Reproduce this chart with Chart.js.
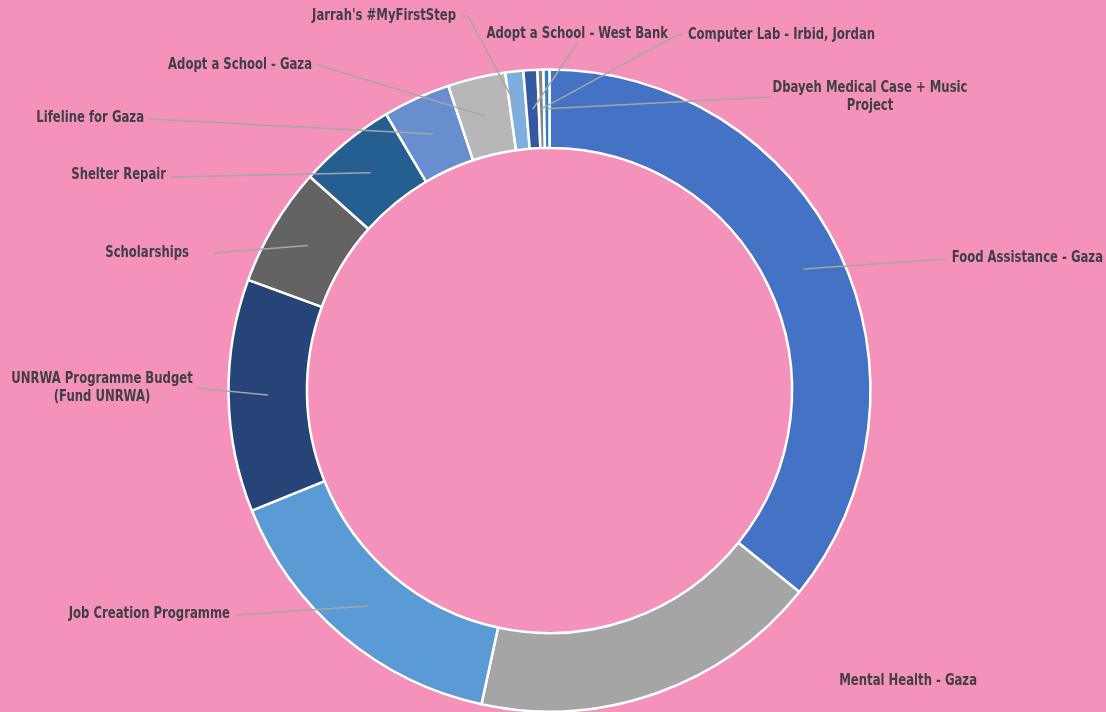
<!DOCTYPE html>
<html>
<head>
<meta charset="utf-8">
<script src="https://cdn.jsdelivr.net/npm/chart.js@4.4.1/dist/chart.umd.min.js"></script>
<style>
  html, body { margin: 0; padding: 0; background: #F492BC; }
  #wrap { width: 1106px; height: 712px; }
</style>
</head>
<body>
<div id="wrap"><canvas id="myChart" width="1106" height="712"></canvas></div>
<script>
// projets, dans l'ordre du graphique (sens horaire depuis le haut)
const projets = [
    'Food Assistance - Gaza',
    'Mental Health - Gaza',
    'Job Creation Programme',
    ['UNRWA Programme Budget', '(Fund UNRWA)'],
    'Scholarships',
    'Shelter Repair',
    'Lifeline for Gaza',
    'Adopt a School - Gaza',
    "Jarrah's #MyFirstStep",
    'Adopt a School - West Bank',
    'Computer Lab - Irbid, Jordan',
    ['Dbayeh Medical Case + Music', 'Project']
]
// part de chaque projet (%)
const parts = [35.8, 17.6, 15.5, 11.7, 6.0, 4.9, 3.4, 2.9, 0.9, 0.7, 0.3, 0.3]

const couleurs = ['#4472C4', '#A5A5A5', '#5B9BD5', '#264478', '#636363', '#255E91',
    '#698ED0', '#B7B7B7', '#7CAFDD', '#335AA1', '#848484', '#327DC2']

// position des étiquettes : x, y du texte, alignement, départ du trait, coude éventuel
const etiquettes = [
    { x: 1103, y: 258, align: 'right', sx: 945, sy: 259 },
    { x: 977, y: 681, align: 'right', sx: null },
    { x: 230, y: 614, align: 'right', sx: 236, sy: 615 },
    { x: 102, y: 379, align: 'center', sx: 196, sy: 388 },
    { x: 189, y: 253, align: 'right', sx: 214, sy: 253 },
    { x: 166, y: 175, align: 'right', sx: 171, sy: 177 },
    { x: 144, y: 118, align: 'right', sx: 150, sy: 119 },
    { x: 312, y: 65, align: 'right', sx: 318, sy: 65 },
    { x: 456, y: 16, align: 'right', sx: 462, sy: 16, coude: 468 },
    { x: 668, y: 34, align: 'right', sx: 578, sy: 42 },
    { x: 688, y: 35, align: 'left', sx: 683, sy: 35, coude: 677 },
    { x: 870, y: 88, align: 'center', sx: 770, sy: 97 }
]

const fond = {
    id: 'fond',
    beforeDraw(chart) {
        const ctx = chart.ctx
        ctx.save()
        ctx.fillStyle = '#F492BC'
        ctx.fillRect(0, 0, chart.width, chart.height)
        ctx.restore()
    }
}

const etiquettesPlugin = {
    id: 'etiquettes',
    afterDatasetsDraw(chart) {
        const ctx = chart.ctx
        const arcs = chart.getDatasetMeta(0).data
        ctx.save()
        ctx.font = "bold 16px 'DejaVu Sans Condensed', 'Liberation Sans Narrow', Roboto, sans-serif"
        ctx.textBaseline = 'middle'
        arcs.forEach((arc, i) => {
            const e = etiquettes[i]
            const p = arc.tooltipPosition()
            if (e.sx !== null) {
                ctx.strokeStyle = '#A6A6A6'
                ctx.lineWidth = 1.5
                ctx.beginPath()
                ctx.moveTo(e.sx, e.sy)
                if (e.coude) ctx.lineTo(e.coude, e.sy)
                ctx.lineTo(p.x, p.y)
                ctx.stroke()
            }
            ctx.fillStyle = '#404040'
            ctx.textAlign = e.align
            const lignes = Array.isArray(projets[i]) ? projets[i] : [projets[i]]
            lignes.forEach((t, k) => {
                // police resserrée, comme dans l'original
                ctx.save()
                ctx.translate(e.x, e.y + k * 18)
                ctx.scale(0.81, 1)
                ctx.fillText(t, 0, 0)
                ctx.restore()
            })
        })
        ctx.restore()
    }
}

const data = {
    labels: projets,
    datasets: [{
        data: parts,
        backgroundColor: couleurs,
        borderColor: '#FFFFFF',
        borderWidth: 2.5,
        radius: 321,
        cutout: 242
    }]
}

const config = {
    type: 'doughnut',
    data: data,
    options: {
        responsive: false,
        animation: false,
        layout: { padding: { left: 0, right: 7, top: 69, bottom: 0 } },
        plugins: {
            legend: { display: false },
            tooltip: { enabled: false }
        }
    },
    plugins: [fond, etiquettesPlugin]
}

new Chart(document.getElementById('myChart'), config)
</script>
</body>
</html>
